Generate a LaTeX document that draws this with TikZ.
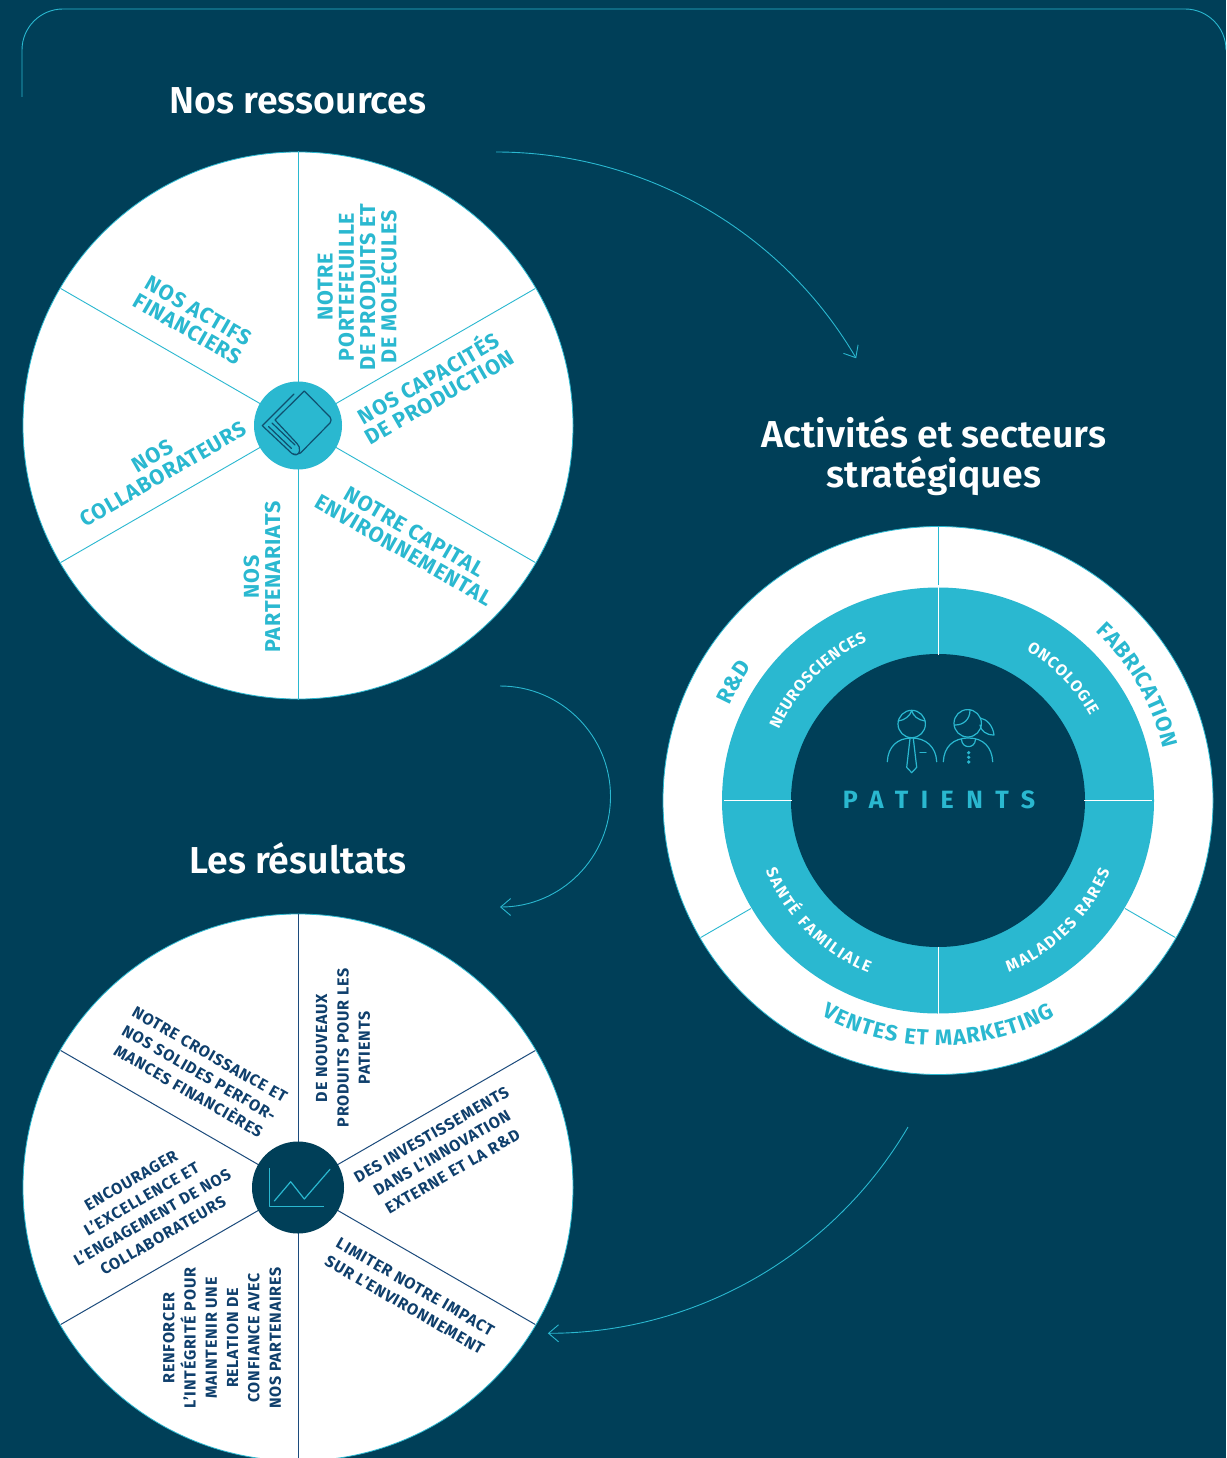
\documentclass[tikz,border=0pt]{standalone}
\usepackage{fontspec}
\usetikzlibrary{arrows.meta,decorations.text}
\setmainfont{Fira Sans}
\newfontfamily\fssemi{Fira Sans SemiBold}
\definecolor{bgc}{HTML}{003F58}
\definecolor{tealc}{HTML}{2AB8D0}
\definecolor{navyc}{HTML}{0F3F6C}
\definecolor{spokec}{HTML}{1C4B7C}
\definecolor{bookc}{HTML}{0F4F6E}
\tikzset{
  x=1pt,y=1pt,
  title/.style={text=white,font=\fssemi\fontsize{37.5}{41}\selectfont,align=center},
  wheel/.style={fill=white,draw=tealc,line width=.8pt},
  lab1/.style={text=tealc,font=\bfseries\addfontfeatures{LetterSpace=4}\fontsize{21.5}{21.3}\selectfont,align=center,inner sep=0pt},
  lab2/.style={text=navyc,font=\bfseries\addfontfeatures{LetterSpace=5}\fontsize{16}{21.3}\selectfont,align=center,inner sep=0pt},
  flow/.style={draw=tealc,line width=.9pt,-{Straight Barb[length=10pt,width=17pt,line width=.9pt]}},
  icon/.style={line width=1.2pt,line join=round,line cap=round},
  curved1/.style={decorate,decoration={text along path,text align={fit to path},text color=tealc,
    text={|\bfseries\fontsize{22}{22}\selectfont|#1}}},
  curved2/.style={decorate,decoration={text along path,text align={fit to path},text color=white,
    text={|\bfseries\fontsize{16}{16}\selectfont|#1}}},
}
\begin{document}
\begin{tikzpicture}
\fill[bgc] (0,0) rectangle (1226,-1458);
\useasboundingbox (0,0) rectangle (1226,-1458);
\clip (0,0) rectangle (1226,-1458);
% frame
\coordinate (f1) at (22,-97);
\draw[tealc,line width=.9pt] (f1) -- (22,-50) arc[start angle=180,end angle=90,radius=41] -- (1185,-9) arc[start angle=90,end angle=0,radius=41];
% titles
\node[title] (t1) at (298,-101) {Nos ressources};
\node[title] (t2) at (934,-456) {Activités et secteurs\\[-1pt]stratégiques};
\node[title] (t3) at (298,-858.5) {Les résultats};
% wheel 1
\coordinate (c1) at (298,-425.5);
\draw[wheel] (c1) ellipse (275pt and 273.5pt);
\foreach \a in {90,30,-30,-90,-150,150}{
  \draw[tealc,line width=.9pt] (c1) -- ++(\a:274);
}
\node[circle,fill=tealc,minimum size=88pt,inner sep=0pt] (h1) at (c1) {};
\draw[icon,bookc] (294,-394) -- (262.3,-425.7) -- (291.7,-453.3)
  .. controls (295,-456) and (299,-455) .. (299.5,-451)
  .. controls (300,-448) and (299,-445.5) .. (297,-443.5) -- (275,-420) -- (304.3,-391) -- (330,-417)
  .. controls (331.5,-419) and (331.5,-421) .. (330,-423) -- (300.5,-453)
  .. controls (298,-455) and (295,-454.7) .. (291.7,-453.3);
\draw[icon,bookc] (268.5,-426.5) -- (291.5,-448.5) (272,-423) -- (295,-445);
\node[lab1,rotate=90] (a1) at (357,-287) {NOTRE\\PORTEFEUILLE\\DE PRODUITS ET\\DE MOLÉCULES};
\node[lab1,rotate=30] (a2) at (433,-386) {NOS CAPACITÉS\\DE PRODUCTION};
\node[lab1,rotate=-30] (a3) at (409,-541) {NOTRE CAPITAL\\ENVIRONNEMENTAL};
\node[lab1,rotate=90] (a4) at (262,-577) {NOS\\PARTENARIATS};
\node[lab1,rotate=30] (a5) at (158,-465) {NOS\\COLLABORATEURS};
\node[lab1,rotate=-30] (a6) at (193,-320) {NOS ACTIFS\\FINANCIERS};
% wheel 2
\coordinate (c2) at (298,-1187.5);
\draw[wheel] (c2) ellipse (275pt and 273.5pt);
\foreach \a in {90,30,-30,-90,-150,150}{
  \draw[spokec,line width=1pt] (c2) -- ++(\a:274);
}
\node[circle,fill=bgc,minimum size=92pt,inner sep=0pt] (h2) at (c2) {};
\draw[icon,tealc,line cap=butt] (269.3,-1168.3) -- (269.3,-1206.7) -- (324.3,-1206.7);
\draw[icon,tealc] (274.3,-1201) -- (290.7,-1181.7) -- (304.3,-1199) -- (330,-1169.3);
\node[lab2,rotate=90] (b1) at (343,-1048) {DE NOUVEAUX\\PRODUITS POUR LES\\PATIENTS};
\node[lab2,rotate=30] (b2) at (442,-1153) {DES INVESTISSEMENTS\\DANS L’INNOVATION\\EXTERNE ET LA R\&D};
\node[lab2,rotate=-30] (b3) at (410,-1296) {LIMITER NOTRE IMPACT\\SUR L’ENVIRONNEMENT};
\node[lab2,rotate=90] (b4) at (222,-1338) {RENFORCER\\L’INTÉGRITÉ POUR\\MAINTENIR UNE\\RELATION DE\\CONFIANCE AVEC\\NOS PARTENAIRES};
\node[lab2,rotate=-30] (b5) at (199,-1073) {NOTRE CROISSANCE ET\\NOS SOLIDES PERFOR-\\MANCES FINANCIÈRES};
\node[lab2,rotate=30] (b6) at (147,-1208) {ENCOURAGER\\L’EXCELLENCE ET\\L’ENGAGEMENT DE NOS\\COLLABORATEURS};
% ring
\coordinate (c3) at (938,-800.5);
\draw[wheel] (c3) ellipse (275pt and 274pt);
\fill[tealc] (c3) ellipse (216pt and 213pt);
\fill[bgc] (c3) ellipse (147pt and 146.5pt);
\foreach \a in {0,90,180,-90}{
  \draw[white,line width=1pt] (c3) ++(\a:146) -- ++(\a:68);
}
\foreach \a in {90,-30,-150}{
  \draw[tealc,line width=.9pt] (c3) ++(\a:216) -- ++(\a:58);
}
% ring labels
\path[curved1={R{\&}D}] (c3) ++(155.5:229) arc[start angle=155.5,end angle=145,radius=229];
\path[curved1={FABRICATION}] (c3) ++(47:231) arc[start angle=47,end angle=13,radius=231];
\path[curved1={VENTES ET MARKETING}] (c3) ++(241.5:245) arc[start angle=241.5,end angle=298.5,radius=245];
\path[curved2={NEUROSCIENCES}] (c3) ++(156:174) arc[start angle=156,end angle=114,radius=174];
\path[curved2={ONCOLOGIE}] (c3) ++(59.5:174) arc[start angle=59.5,end angle=29,radius=174];
\path[curved2={SANTÉ FAMILIALE}] (c3) ++(202:186) arc[start angle=202,end angle=248,radius=186];
\path[curved2={MALADIES RARES}] (c3) ++(292.4:186) arc[start angle=292.4,end angle=337.6,radius=186];
% patients
\node[text=tealc,font=\bfseries\fontsize{25}{25}\selectfont\addfontfeatures{LetterSpace=50},inner sep=0pt] (p) at (939,-800) {PATIENTS};
\draw[icon,tealc] (911.7,-724) circle (13.7pt);
\draw[icon,tealc] (898.3,-721) .. controls (905,-720) and (910,-716) .. (911.7,-710.5)
  .. controls (913,-716) and (918,-720) .. (925.1,-721);
\draw[icon,tealc] (887.3,-761.7) .. controls (888,-747) and (897,-738) .. (911.7,-738)
  .. controls (926,-738) and (936,-747) .. (936.7,-761.7);
\draw[icon,tealc] (910,-738.5) -- (906.7,-767.3) -- (911.7,-772.7) -- (916.7,-767.3) -- (913.3,-738.5);
\draw[icon,tealc] (920,-752.7) -- (926,-752.7);
\draw[icon,tealc] (967.7,-723.3) circle (13.7pt);
\draw[icon,tealc] (955,-725) .. controls (963,-725) and (970,-720) .. (970,-710);
\draw[icon,tealc] (980,-718) .. controls (987,-719) and (993,-726) .. (994,-735)
  .. controls (986,-735) and (981,-731) .. (980,-725);
\draw[icon,tealc] (943.3,-761.7) .. controls (944,-747) and (953,-738) .. (968.7,-738)
  .. controls (983,-738) and (992,-747) .. (992.7,-761.7);
\draw[icon,tealc] (961.5,-739.5) .. controls (962,-749) and (975,-749) .. (975.5,-739.5);
\foreach \y in {-752.7,-757.3,-762}{\fill[tealc] (968.7,\y) circle (1.8pt);}
% flows
\coordinate (s1) at (496,-152);
\coordinate (s2) at (500,-686);
\coordinate (s3) at (908,-1127);
\draw[flow] (s1) arc[start angle=90,end angle=30.4,radius=417.6];
\draw[flow] (s2) arc[start angle=90,end angle=-90,radius=110.5];
\draw[flow] (s3) arc[start angle=-30.4,end angle=-90,radius=417.6];
\end{tikzpicture}
\end{document}
